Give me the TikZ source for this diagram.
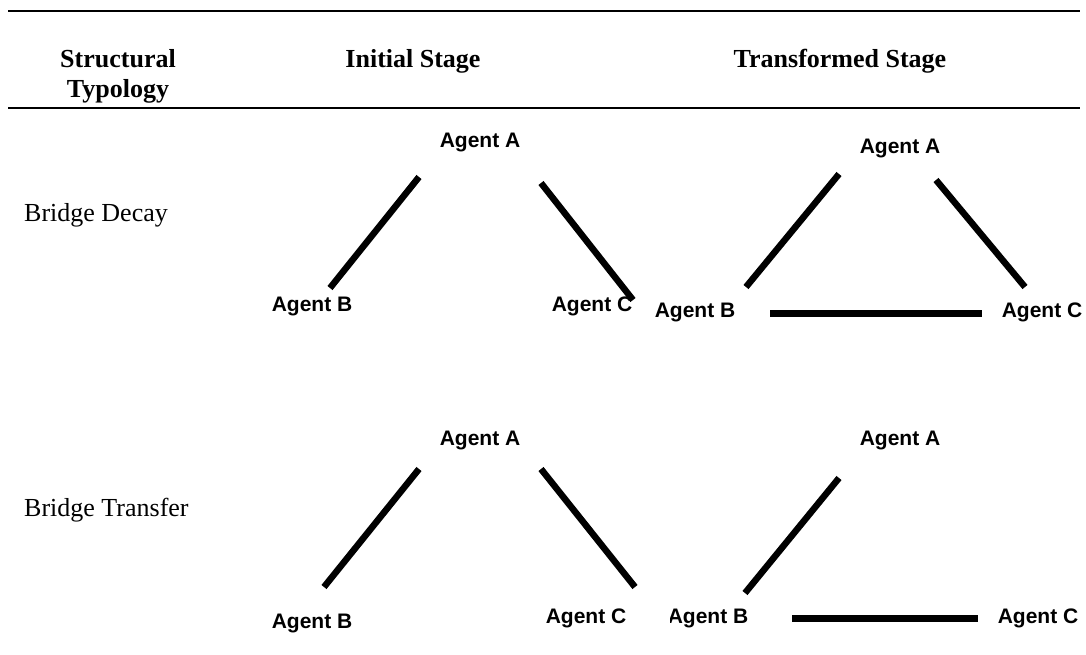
\documentclass[tikz,border=0pt]{standalone}
\usepackage{fontspec}
\setmainfont{Liberation Serif}
\newfontfamily\agentfont{Liberation Sans}
\begin{document}
\begin{tikzpicture}[x=1pt,y=-1pt,
  rule/.style={line width=2.4pt},
  head/.style={anchor=base,inner sep=0pt,font=\fontsize{26}{30}\selectfont\bfseries},
  rowlabel/.style={anchor=base west,inner sep=0pt,font=\fontsize{26}{30}\selectfont},
  agent/.style={anchor=base,inner sep=0pt,font=\agentfont\bfseries\fontsize{21}{25}\selectfont},
  tie/.style={line width=6.5pt},
  flat/.style={line width=7pt}]
\useasboundingbox (0,0) rectangle (1086,654);

% table rules
\coordinate (toprule-l) at (8,11);
\coordinate (toprule-r) at (1080,11);
\coordinate (midrule-l) at (8,108);
\coordinate (midrule-r) at (1080,108);
\draw[rule] (toprule-l) -- (toprule-r);
\draw[rule] (midrule-l) -- (midrule-r);

% column heads
\node[head] (hstruct) at (118,67) {Structural};
\node[head] (htypo) at (118,97) {Typology};
\node[head] (hinit) at (413,67) {Initial Stage};
\node[head] (htrans) at (840,67) {Transformed Stage};

% row labels
\node[rowlabel] (decay) at (24,221) {Bridge Decay};
\node[rowlabel] (transfer) at (24,516) {Bridge Transfer};

% ---- Bridge Decay, initial stage
\node[agent] (d1A) at (480,147) {Agent A};
\node[agent] (d1B) at (312,311) {Agent B};
\node[agent] (d1C) at (592,311) {Agent C};
\coordinate (d1ab) at (419,177); \coordinate (d1ba) at (330,288);
\coordinate (d1ac) at (541,183); \coordinate (d1ca) at (633,300);
\draw[tie] (d1ab) -- (d1ba);
\draw[tie] (d1ac) -- (d1ca);

% ---- Bridge Decay, transformed stage
\node[agent] (d2A) at (900,153) {Agent A};
\node[agent] (d2B) at (695,317) {Agent B};
\node[agent] (d2C) at (1042,317) {Agent C};
\coordinate (d2ab) at (839,174); \coordinate (d2ba) at (746,287);
\coordinate (d2ac) at (936,180); \coordinate (d2ca) at (1025,287);
\coordinate (d2bc) at (770,313); \coordinate (d2cb) at (982,313);
\draw[tie] (d2ab) -- (d2ba);
\draw[tie] (d2ac) -- (d2ca);
\draw[flat] (d2bc) -- (d2cb);

% ---- Bridge Transfer, initial stage
\node[agent] (t1A) at (480,445) {Agent A};
\node[agent] (t1B) at (312,628) {Agent B};
\node[agent] (t1C) at (586,623) {Agent C};
\coordinate (t1ab) at (419,469); \coordinate (t1ba) at (324,587);
\coordinate (t1ac) at (541,469); \coordinate (t1ca) at (635,587);
\draw[tie] (t1ab) -- (t1ba);
\draw[tie] (t1ac) -- (t1ca);

% ---- Bridge Transfer, transformed stage (label trimmed at the cell edge)
\node[agent] (t2A) at (900,445) {Agent A};
\begin{scope}
  \clip (670,590) rectangle (760,640);
  \node[agent] (t2B) at (708,623) {Agent B};
\end{scope}
\node[agent] (t2C) at (1038,623) {Agent C};
\coordinate (t2ab) at (839,478); \coordinate (t2ba) at (745,593);
\coordinate (t2bc) at (792,618); \coordinate (t2cb) at (978,618);
\draw[tie] (t2ab) -- (t2ba);
\draw[flat] (t2bc) -- (t2cb);
\end{tikzpicture}
\end{document}
